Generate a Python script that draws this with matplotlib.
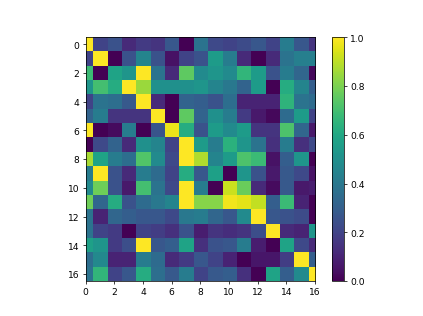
import numpy as np
import matplotlib
matplotlib.use('Agg')
import matplotlib.pyplot as plt

row0  = [1.00, .20, .25, .12, .17, .15, .27, .00, .38, .22, .20, .23, .27, .20, .42, .27, .15]
row1  = [.20, 1.00, .00, .25, .45, .25, .05, .20, .25, .55, .42, .12, .00, .12, .38, .43, .43]
row2  = [.68, .00, .58, .52, 1.00, .38, .12, .75, .48, .52, .48, .66, .55, .25, .42, .33, .02]
row3  = [.52, .70, .62, 1.00, .85, .50, .50, .50, .52, .45, .40, .32, .55, .00, .62, .45, .30]
row4  = [.20, .38, .36, .28, 1.00, .12, .00, .32, .30, .25, .36, .10, .10, .10, .65, .38, .35]
row5  = [.32, .42, .15, .15, .15, 1.00, .00, .75, .32, .50, .42, .17, .07, .02, .35, .55, .20]
row6  = [1.00, .00, .03, .42, .00, .26, .97, .62, .25, .55, .48, .55, .15, .15, .72, .33, .07]
row7  = [.00, .22, .32, .12, .50, .45, .20, 1.00, .55, .42, .64, .52, .38, .14, .42, .14, .22]
row8  = [.87, .58, .42, .36, .73, .48, .22, 1.00, .88, .45, .55, .72, .68, .05, .30, .52, .00]
row9  = [.42, 1.00, .25, .12, .42, .35, .20, .62, .27, .57, .00, .52, .25, .07, .28, .22, .05]
row10 = [.48, .78, .25, .07, .70, .38, .22, 1.00, .42, .00, .92, .77, .12, .03, .28, .07, .08]
row11 = [.78, .33, .62, .25, .35, .40, .45, 1.00, .82, .82, .98, .96, .91, .30, .68, .10, .00]
row12 = [.38, .10, .33, .30, .27, .27, .22, .40, .42, .33, .27, .48, 1.00, .27, .25, .23, .00]
row13 = [.38, .20, .17, .00, .20, .18, .14, .25, .08, .15, .13, .15, .24, 1.00, .12, .10, .52]
row14 = [.57, .52, .17, .24, 1.00, .27, .30, .58, .14, .25, .27, .42, .08, .00, .58, .22, .12]
row15 = [.36, .47, .10, .10, .42, .35, .12, .17, .27, .20, .10, .00, .06, .06, .18, 1.00, .30]
row16 = [.38, .66, .20, .27, .62, .36, .28, .42, .20, .28, .30, .14, .00, .58, .30, .48, 1.00]

mat = np.array([row0, row1, row2, row3, row4, row5, row6, row7, row8, row9,
                row10, row11, row12, row13, row14, row15, row16])

fig = plt.figure(figsize=(6.41, 4.8), dpi=66)
ax = fig.add_subplot(111)
im = ax.imshow(mat, cmap='viridis', vmin=0, vmax=1)
ax.set_xlim(0, 16)
fig.colorbar(im, ax=ax)
plt.savefig('out.png', dpi=66)
